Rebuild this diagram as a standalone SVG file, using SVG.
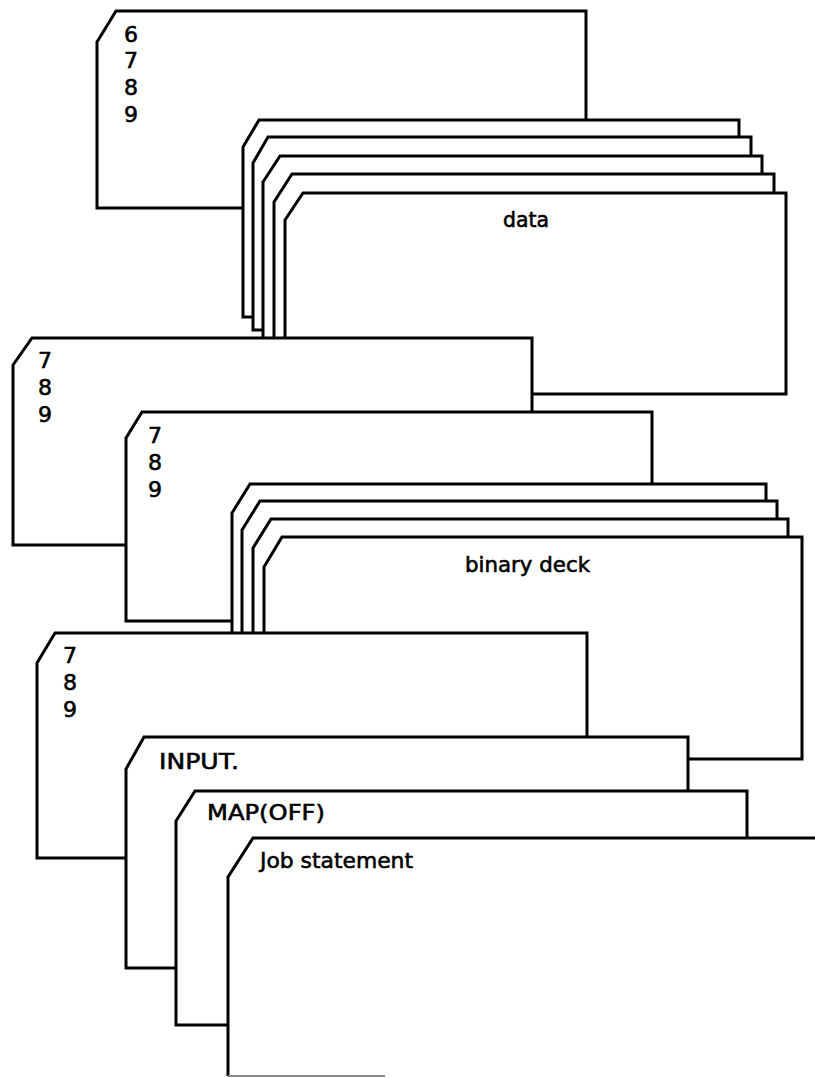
<svg xmlns="http://www.w3.org/2000/svg" width="815" height="1078" viewBox="0 0 815 1078">
<style>
.card{fill:#fff;stroke:#000;stroke-width:3;stroke-linejoin:miter}
.t{font-family:"DejaVu Sans","Liberation Sans",sans-serif;font-size:21px;fill:#000;stroke:#000;stroke-width:0.6}
.d{font-size:22px}
.c{font-size:22px}
</style>
<rect width="815" height="1078" fill="#fff"/>
<g id="card-6789">
<path class="card" d="M97,42 L116,11 L586,11 L586,208 L97,208 Z"/>
<text class="t d" x="124" y="42">6</text>
<text class="t d" x="124" y="68">7</text>
<text class="t d" x="124" y="95">8</text>
<text class="t d" x="124" y="122">9</text>
</g>
<g id="data-1"><path class="card" d="M243,147 L259,120 L739,120 L739,317 L243,317 Z"/></g>
<g id="data-2"><path class="card" d="M253,163 L268,137 L751,137 L751,330 L253,330 Z"/></g>
<g id="data-3"><path class="card" d="M263,182 L280,156 L762,156 L762,345 L263,345 Z"/></g>
<g id="data-4"><path class="card" d="M274,202 L292,174 L774,174 L774,360 L274,360 Z"/></g>
<g id="data-5">
<path class="card" d="M285,220 L303,193 L786,193 L786,394 L285,394 Z"/>
<text class="t" x="503" y="227" textLength="46" lengthAdjust="spacingAndGlyphs">data</text>
</g>
<g id="card-789-a">
<path class="card" d="M13,365 L32,338 L532,338 L532,545 L13,545 Z"/>
<text class="t d" x="38" y="368">7</text>
<text class="t d" x="38" y="395">8</text>
<text class="t d" x="38" y="422">9</text>
</g>
<g id="card-789-b">
<path class="card" d="M126,438 L142,412 L652,412 L652,621 L126,621 Z"/>
<text class="t d" x="148" y="443">7</text>
<text class="t d" x="148" y="470">8</text>
<text class="t d" x="148" y="497">9</text>
</g>
<g id="binary-1"><path class="card" d="M232,513 L250,484 L766,484 L766,700 L232,700 Z"/></g>
<g id="binary-2"><path class="card" d="M242,530 L260,501 L777,501 L777,720 L242,720 Z"/></g>
<g id="binary-3"><path class="card" d="M253,548 L271,519 L788,519 L788,740 L253,740 Z"/></g>
<g id="binary-4">
<path class="card" d="M264,567 L282,537 L802,537 L802,759 L264,759 Z"/>
<text class="t" x="465" y="572" textLength="125" lengthAdjust="spacingAndGlyphs">binary deck</text>
</g>
<g id="card-789-c">
<path class="card" d="M37,663 L55,633 L587,633 L587,858 L37,858 Z"/>
<text class="t d" x="63" y="663">7</text>
<text class="t d" x="63" y="690">8</text>
<text class="t d" x="63" y="717">9</text>
</g>
<g id="card-input">
<path class="card" d="M126,769 L144,737 L688,737 L688,968 L126,968 Z"/>
<text class="t c" x="159" y="769" textLength="80" lengthAdjust="spacingAndGlyphs">INPUT.</text>
</g>
<g id="card-map">
<path class="card" d="M176,821 L195,791 L747,791 L747,1025 L176,1025 Z"/>
<text class="t c" x="207" y="820" textLength="118" lengthAdjust="spacingAndGlyphs">MAP(OFF)</text>
</g>
<g id="card-job">
<path d="M228,877 L253,838 L820,838 L820,1080 L228,1080 Z" fill="#fff" stroke="none"/>
<path d="M228,1076 L228,877 L253,838 L820,838" fill="none" stroke="#000" stroke-width="3"/>
<path d="M228,1076 L385,1076" fill="none" stroke="#888" stroke-width="2"/>
<text class="t c" x="260" y="868" textLength="153" lengthAdjust="spacingAndGlyphs">Job statement</text>
</g>
</svg>
